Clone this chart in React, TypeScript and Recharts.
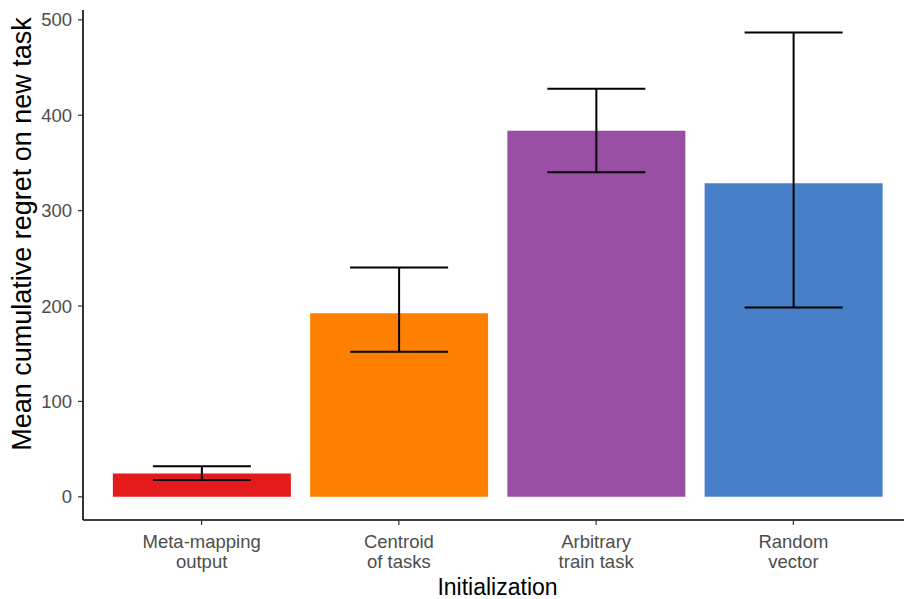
import { BarChart, Bar, XAxis, YAxis, ErrorBar, Cell } from 'recharts';

const categories = ['Meta-mapping\noutput', 'Centroid\nof tasks', 'Arbitrary\ntrain task', 'Random\nvector'];
const means = [24.5, 192.5, 383.6, 328.8];
const lows = [17.5, 152, 340.3, 198.4];
const highs = [32, 240.3, 427.8, 486.7];
const colors = ['#E41A1C', '#FF7F00', '#984EA3', '#4780C8'];
const yTicks = [0, 100, 200, 300, 400, 500];

const data = categories.map((name, i) => ({
  name,
  regret: means[i],
  err: [means[i] - lows[i], highs[i] - means[i]],
}));

const font = '"Liberation Sans", Arial, Helvetica, sans-serif';

const CategoryTick = (props: any) => {
  const { x, y, payload } = props;
  const lines = String(payload.value).split('\n');
  return (
    <g transform={`translate(${x},${y})`}>
      <text textAnchor="middle" fill="#4D4D4D" fontSize={18.5} fontFamily={font}>
        {lines.map((l, i) => (
          <tspan key={i} x={0} y={21 + i * 19.5}>{l}</tspan>
        ))}
      </text>
    </g>
  );
};

// y title sits a bit above the panel centre in the original
const YTitle = (props: any) => {
  const { viewBox } = props;
  const cx = 22;
  const cy = viewBox.y + viewBox.height / 2 - 31;
  return (
    <text
      x={cx}
      y={cy}
      transform={`rotate(-90 ${cx} ${cy})`}
      textAnchor="middle"
      dominantBaseline="central"
      fill="#000"
      fontSize={27}
      fontFamily={font}
    >
      Mean cumulative regret on new task
    </text>
  );
};

export default function App() {
  return (
    <div style={{ position: 'absolute', left: 0, top: 0, width: 904, height: 599, overflow: 'hidden', background: '#fff' }}>
      <BarChart
        width={912}
        height={599}
        data={data}
        margin={{ top: 10, right: 0, left: 0, bottom: 0 }}
        barCategoryGap="5%"
      >
        <XAxis
          dataKey="name"
          height={79}
          padding={{ left: 20, right: 20 }}
          axisLine={{ stroke: '#000', strokeWidth: 1.6 }}
          tickLine={{ stroke: '#333', strokeWidth: 1.2 }}
          tickSize={5}
          tick={<CategoryTick />}
          interval={0}
          label={{ value: 'Initialization', position: 'insideBottom', offset: 4.5, fill: '#000', fontSize: 23, fontFamily: font }}
        />
        <YAxis
          width={83}
          domain={[-24.3, 510.3]}
          ticks={yTicks}
          allowDataOverflow
          axisLine={{ stroke: '#000', strokeWidth: 1.6 }}
          tickLine={{ stroke: '#333', strokeWidth: 1.2 }}
          tickSize={5}
          tickMargin={6}
          tick={{ fill: '#4D4D4D', fontSize: 18.5, fontFamily: font }}
          label={{ content: <YTitle /> }}
        />
        <Bar dataKey="regret" isAnimationActive={false}>
          {data.map((d, i) => (
            <Cell key={d.name} fill={colors[i]} />
          ))}
          <ErrorBar dataKey="err" direction="y" width={49} stroke="#000" strokeWidth={2} />
        </Bar>
      </BarChart>
    </div>
  );
}
